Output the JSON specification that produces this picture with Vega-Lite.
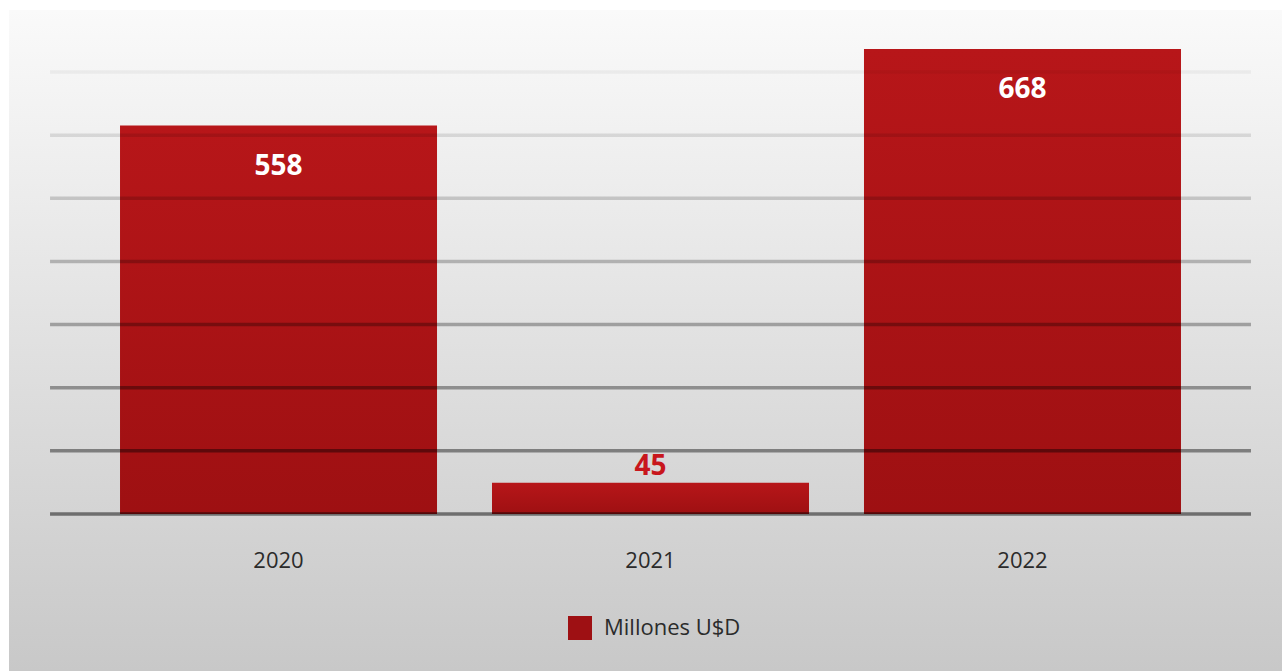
{
  "$schema": "https://vega.github.io/schema/vega-lite/v6.json",
  "width": 1282,
  "height": 671,
  "autosize": {"type": "fit", "contains": "padding"},
  "padding": {"left": 9, "top": 10, "right": 0, "bottom": 0},
  "background": "#ffffff",
  "config": {
    "font": "Open Sans",
    "view": {
      "stroke": null,
      "fill": {
        "gradient": "linear",
        "x1": 0, "y1": 0, "x2": 0, "y2": 1,
        "stops": [
          {"offset": 0, "color": "#fafafa"},
          {"offset": 1, "color": "#c8c8c8"}
        ]
      }
    }
  },
  "datasets": {
    "bars": [
      {"year": "2020", "value": 558, "serie": "Millones U$D"},
      {"year": "2021", "value": 45, "serie": "Millones U$D"},
      {"year": "2022", "value": 668, "serie": "Millones U$D"}
    ],
    "grid": [
      {"v": 0}, {"v": 90.7}, {"v": 181.4}, {"v": 272.1},
      {"v": 362.9}, {"v": 453.6}, {"v": 544.3}, {"v": 635}
    ]
  },
  "layer": [
    {
      "data": {"name": "bars"},
      "mark": {
        "type": "bar",
        "color": {
          "gradient": "linear",
          "x1": 0, "y1": 0, "x2": 0, "y2": 1,
          "stops": [
            {"offset": 0, "color": "#b71619"},
            {"offset": 1, "color": "#9e1012"}
          ]
        }
      },
      "encoding": {
        "x": {
          "field": "year",
          "type": "nominal",
          "sort": null,
          "scale": {"paddingInner": 0.1478, "paddingOuter": 0.285, "align": 0.5236},
          "axis": {
            "title": null,
            "domain": false,
            "ticks": false,
            "grid": false,
            "labelAngle": 0,
            "labelFontSize": 22,
            "labelColor": "#2b2b2b",
            "labelFont": "Open Sans",
            "labelPadding": 0,
            "labelBaseline": "middle",
            "offset": -111
          }
        },
        "y": {
          "field": "value",
          "type": "quantitative",
          "scale": {"domain": [-225.6, 724.1], "nice": false, "zero": false},
          "axis": null
        },
        "y2": {"datum": 0}
      }
    },
    {
      "data": {"name": "grid"},
      "mark": {"type": "rule", "color": "#000000", "strokeWidth": 3.5, "strokeCap": "butt"},
      "encoding": {
        "x": {"datum": "2020", "type": "nominal", "bandPosition": -0.2208},
        "x2": {"datum": "2022", "bandPosition": 1.2208},
        "y": {"field": "v", "type": "quantitative"},
        "opacity": {
          "field": "v",
          "type": "quantitative",
          "scale": {"domain": [0, 635], "range": [0.48, 0.045]},
          "legend": null
        }
      }
    },
    {
      "data": {"name": "bars"},
      "transform": [{"filter": "datum.value > 100"}],
      "mark": {"type": "text", "fontSize": 28, "fontWeight": "bold", "color": "#ffffff", "baseline": "middle", "dy": 41, "font": "Open Sans"},
      "encoding": {
        "x": {"field": "year", "type": "nominal", "sort": null},
        "y": {"field": "value", "type": "quantitative"},
        "text": {"field": "value", "type": "quantitative"}
      }
    },
    {
      "data": {"name": "bars"},
      "transform": [{"filter": "datum.value <= 100"}],
      "mark": {"type": "text", "fontSize": 28, "fontWeight": "bold", "color": "#c8161c", "baseline": "middle", "dy": -16, "font": "Open Sans"},
      "encoding": {
        "x": {"field": "year", "type": "nominal", "sort": null},
        "y": {"field": "value", "type": "quantitative"},
        "text": {"field": "value", "type": "quantitative"}
      }
    },
    {
      "data": {"name": "bars"},
      "mark": {"type": "point", "shape": "square", "filled": true, "opacity": 0},
      "encoding": {
        "x": {"field": "year", "type": "nominal", "sort": null},
        "y": {"field": "value", "type": "quantitative"},
        "color": {
          "field": "serie",
          "type": "nominal",
          "scale": {"range": ["#9e1013"]},
          "legend": {
            "title": null,
            "orient": "none",
            "legendX": 559,
            "legendY": 606,
            "padding": 0,
            "symbolType": "square",
            "symbolSize": 576,
            "symbolOpacity": 1,
            "symbolStrokeWidth": 0,
            "labelFontSize": 22,
            "labelColor": "#2b2b2b",
            "labelFont": "Open Sans",
            "labelOffset": 12
          }
        }
      }
    }
  ]
}
